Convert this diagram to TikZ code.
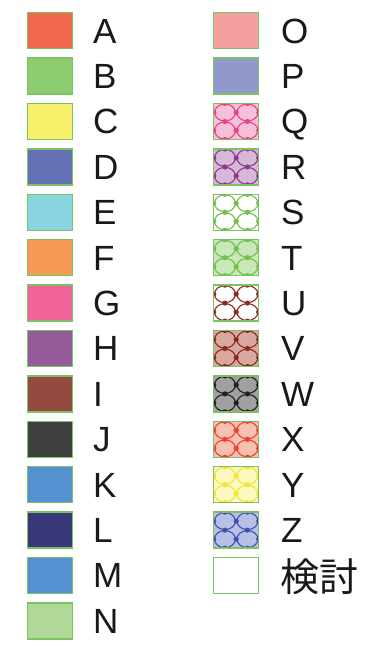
\documentclass[tikz,border=0pt]{standalone}
\usepackage{fontspec}
\setmainfont{Liberation Sans}
\newfontfamily\jpfont{Noto Sans CJK JP}
\usetikzlibrary{calc}
\definecolor{swborder}{RGB}{122,194,98}
\definecolor{swtext}{RGB}{25,25,25}
% plain fills
\definecolor{cA}{RGB}{240,104,78}
\definecolor{cB}{RGB}{142,204,112}
\definecolor{cC}{RGB}{247,240,106}
\definecolor{cD}{RGB}{102,112,180}
\definecolor{cE}{RGB}{138,212,224}
\definecolor{cF}{RGB}{247,154,85}
\definecolor{cG}{RGB}{240,100,154}
\definecolor{cH}{RGB}{148,90,154}
\definecolor{cI}{RGB}{148,74,64}
\definecolor{cJ}{RGB}{64,64,64}
\definecolor{cK}{RGB}{85,144,208}
\definecolor{cL}{RGB}{56,56,120}
\definecolor{cM}{RGB}{85,144,208}
\definecolor{cN}{RGB}{176,216,152}
\definecolor{cO}{RGB}{245,160,160}
\definecolor{cP}{RGB}{144,152,204}
% hatched: light fill / line colour
\definecolor{fQ}{RGB}{248,192,216}\definecolor{lQ}{RGB}{232,64,138}
\definecolor{fR}{RGB}{216,184,216}\definecolor{lR}{RGB}{138,58,138}
\definecolor{fS}{RGB}{255,255,255}\definecolor{lS}{RGB}{112,192,80}
\definecolor{fT}{RGB}{200,232,184}\definecolor{lT}{RGB}{112,192,80}
\definecolor{fU}{RGB}{255,255,255}\definecolor{lU}{RGB}{139,42,32}
\definecolor{fV}{RGB}{216,168,160}\definecolor{lV}{RGB}{139,42,32}
\definecolor{fW}{RGB}{160,160,160}\definecolor{lW}{RGB}{32,32,32}
\definecolor{fX}{RGB}{248,192,176}\definecolor{lX}{RGB}{240,64,48}
\definecolor{fY}{RGB}{252,248,192}\definecolor{lY}{RGB}{240,232,48}
\definecolor{fZ}{RGB}{184,192,232}\definecolor{lZ}{RGB}{64,80,176}
\tikzset{
  swatch/.style={rectangle, draw=swborder, line width=1.4pt,
    minimum width=45pt, minimum height=36pt, inner sep=0pt, anchor=north west},
  hatched/.style={swatch, fill=f#1, path picture={
    \foreach \i in {0,1}{\foreach \j in {0,1}{
      \draw[l#1, line width=1.1pt]
        ($(path picture bounding box.north west)+(11.25pt+\i*22.5pt,-9pt-\j*18pt)$)
        circle[x radius=10.5pt, y radius=8.5pt];}}
    \foreach \px/\py in {22.5/-9,22.5/-27,11.25/-18,33.75/-18,
                         11.25/0,33.75/0,11.25/-36,33.75/-36,
                         0/-9,0/-27,45/-9,45/-27}{
      \fill[l#1] ($(path picture bounding box.north west)+(\px pt,\py pt)$) circle[radius=2.6pt];}
  }},
  keytext/.style={anchor=base west, inner sep=0pt, text=swtext,
    font=\fontsize{35}{35}\selectfont}
}
\begin{document}
\begin{tikzpicture}[x=1pt, y=-1pt]
  \useasboundingbox[fill=white] (0,0) rectangle (382,646);
  % left column
  \foreach \name [count=\k from 0] in {A,B,C,D,E,F,G,H,I,J,K,L,M,N}{
    \node[swatch, fill=c\name] (sw\name) at (27,12+45.4*\k) {};
    \node[keytext] (key\name) at (93,43+45.4*\k) {\name};
  }
  % right column
  \foreach \name [count=\k from 0] in {O,P}{
    \node[swatch, fill=c\name] (sw\name) at (213,12+45.4*\k) {};
    \node[keytext] (key\name) at (281,43+45.4*\k) {\name};
  }
  \foreach \name [count=\k from 2] in {Q,R,S,T,U,V,W,X,Y,Z}{
    \node[hatched=\name] (sw\name) at (213,12+45.4*\k) {};
    \node[keytext] (key\name) at (281,43+45.4*\k) {\name};
  }
  \node[swatch, fill=white] (swKento) at (213,12+45.4*12) {};
  \node[keytext, font=\jpfont\fontsize{39}{39}\selectfont] (keyKento)
    at (280,591) {検討};
\end{tikzpicture}
\end{document}
